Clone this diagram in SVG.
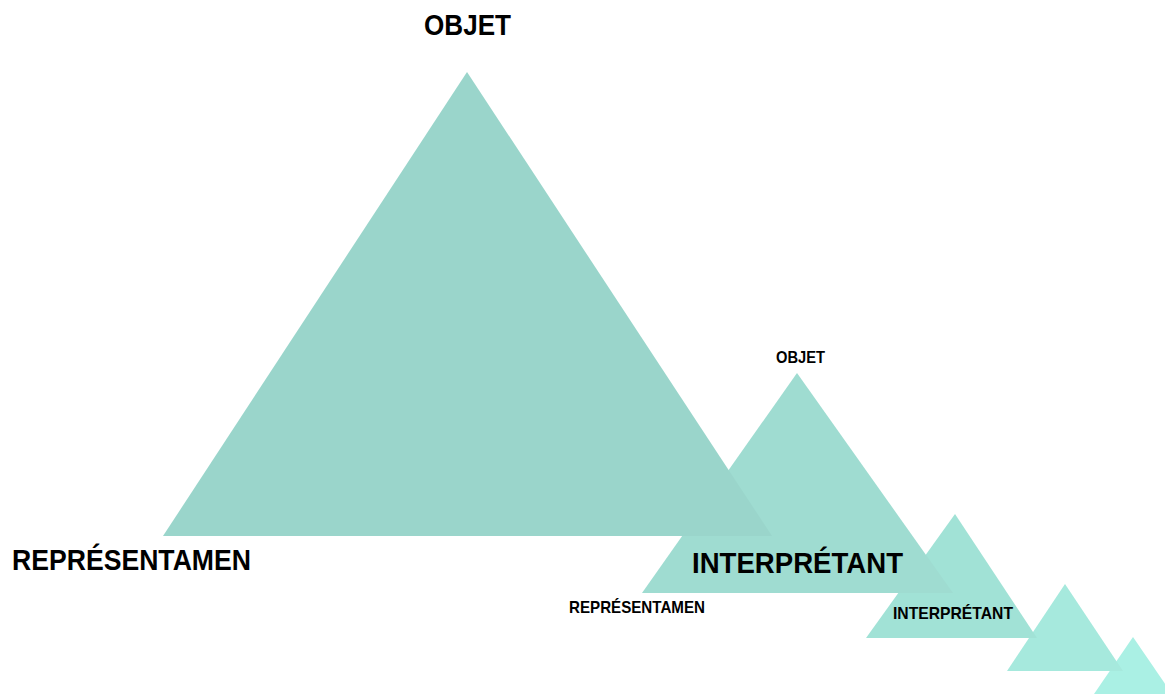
<svg xmlns="http://www.w3.org/2000/svg" width="1165" height="694" viewBox="0 0 1165 694">
<style>
.lbl{font-family:"Liberation Sans",Arial,sans-serif;font-weight:bold;fill:#000;}
.big{font-size:29px;}
.small{font-size:17px;}
</style>
<rect width="1165" height="694" fill="#fff"/>
<g id="tri5"><polygon points="1133,637 1172,694 1094,694" fill="#aaf0e4"/></g>
<g id="tri4"><polygon points="1065,584 1123,671 1007,671" fill="#a6e9dd"/></g>
<g id="tri3"><polygon points="955,514 1037,638 866,638" fill="#a1e2d6"/></g>
<g id="tri2"><polygon points="797,373 953,593 642,593" fill="#9fdcd1"/></g>
<g id="tri1"><polygon points="467,72 772,536 163,536" fill="#9ad5cb"/></g>
<g id="labels">
<text class="lbl big" x="424" y="35" textLength="87" lengthAdjust="spacingAndGlyphs">OBJET</text>
<text class="lbl big" x="12" y="570" textLength="239" lengthAdjust="spacingAndGlyphs">REPRÉSENTAMEN</text>
<text class="lbl big" x="692" y="573" textLength="211" lengthAdjust="spacingAndGlyphs">INTERPRÉTANT</text>
<text class="lbl small" x="776" y="363" textLength="49" lengthAdjust="spacingAndGlyphs">OBJET</text>
<text class="lbl small" x="569" y="613" textLength="136" lengthAdjust="spacingAndGlyphs">REPRÉSENTAMEN</text>
<text class="lbl small" x="893" y="619" textLength="120" lengthAdjust="spacingAndGlyphs">INTERPRÉTANT</text>
</g>
</svg>
